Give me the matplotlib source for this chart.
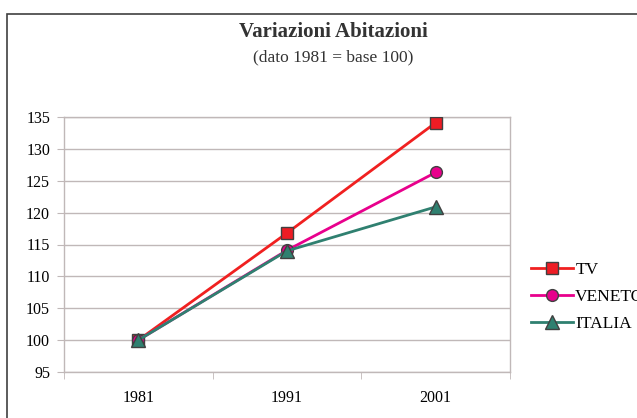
import matplotlib.pyplot as plt
from matplotlib.patches import Rectangle

# data
years = ['1981', '1991', '2001']
tv = [100, 116.8, 134.1]
veneto = [100, 114.1, 126.3]
italia = [100, 114.0, 120.9]
yticks = [95, 100, 105, 110, 115, 120, 125, 130, 135]

plt.rcParams['font.family'] = ['Liberation Serif', 'DejaVu Serif']

W, H = 637, 418
fig = plt.figure(figsize=(W / 100, H / 100), dpi=100)

# outer chart border (runs off the right/bottom edge like the original)
fig.patches.append(Rectangle((7 / W, -0.1), 1.0, 1 - 14 / H + 0.1,
                             transform=fig.transFigure, fill=False,
                             edgecolor='#404040', linewidth=1.2))

ax = fig.add_axes([64 / W, 1 - 372 / H, (510 - 64) / W, (372 - 117) / H])

x = range(len(years))
grey = '#c0b8b8'
ax.plot(x, tv, color='#f02020', lw=2, marker='s', ms=8.5,
        mfc='#ee1c24', mec='#404040', mew=1, label='TV', zorder=3)
ax.plot(x, veneto, color='#e8008c', lw=2, marker='o', ms=8.5,
        mfc='#e8008c', mec='#404040', mew=1, label='VENETO', zorder=4)
ax.plot(x, italia, color='#2f8070', lw=2, marker='^', ms=9.5,
        mfc='#2f8070', mec='#404040', mew=1, label='ITALIA', zorder=5)

ax.set_xlim(-0.5, 2.5)
ax.set_ylim(95, 135)
ax.set_yticks(yticks)
ax.set_xticks(list(x))
ax.set_xticklabels(years)
ax.set_xticks([-0.5, 0.5, 1.5, 2.5], minor=True)
ax.tick_params(axis='x', which='major', length=0, pad=13, labelsize=11.5)
ax.tick_params(axis='x', which='minor', length=5, color=grey, direction='out')
ax.tick_params(axis='y', length=5, color=grey, direction='out', labelsize=11.5, pad=5)
ax.yaxis.grid(True, color=grey, lw=1)
ax.set_axisbelow(True)
for s in ax.spines.values():
    s.set_color(grey)
    s.set_linewidth(1)

fig.text(0.523, 1 - 32 / H, 'Variazioni Abitazioni', ha='center', va='center',
         fontsize=15, fontweight='bold', color='#333333')
fig.text(0.523, 1 - 57 / H, '(dato 1981 = base 100)', ha='center', va='center',
         fontsize=12.5, color='#333333')

# legend sits at the right edge; as in the original, VENETO runs off the edge
ax.legend(loc='center left', bbox_to_anchor=(531 / W, 1 - 297 / H),
          bbox_transform=fig.transFigure, frameon=False, fontsize=12.5,
          handlelength=2.4, handletextpad=0.15, labelspacing=0.62,
          borderaxespad=0, borderpad=0)

fig.savefig('out.png', dpi=100)
